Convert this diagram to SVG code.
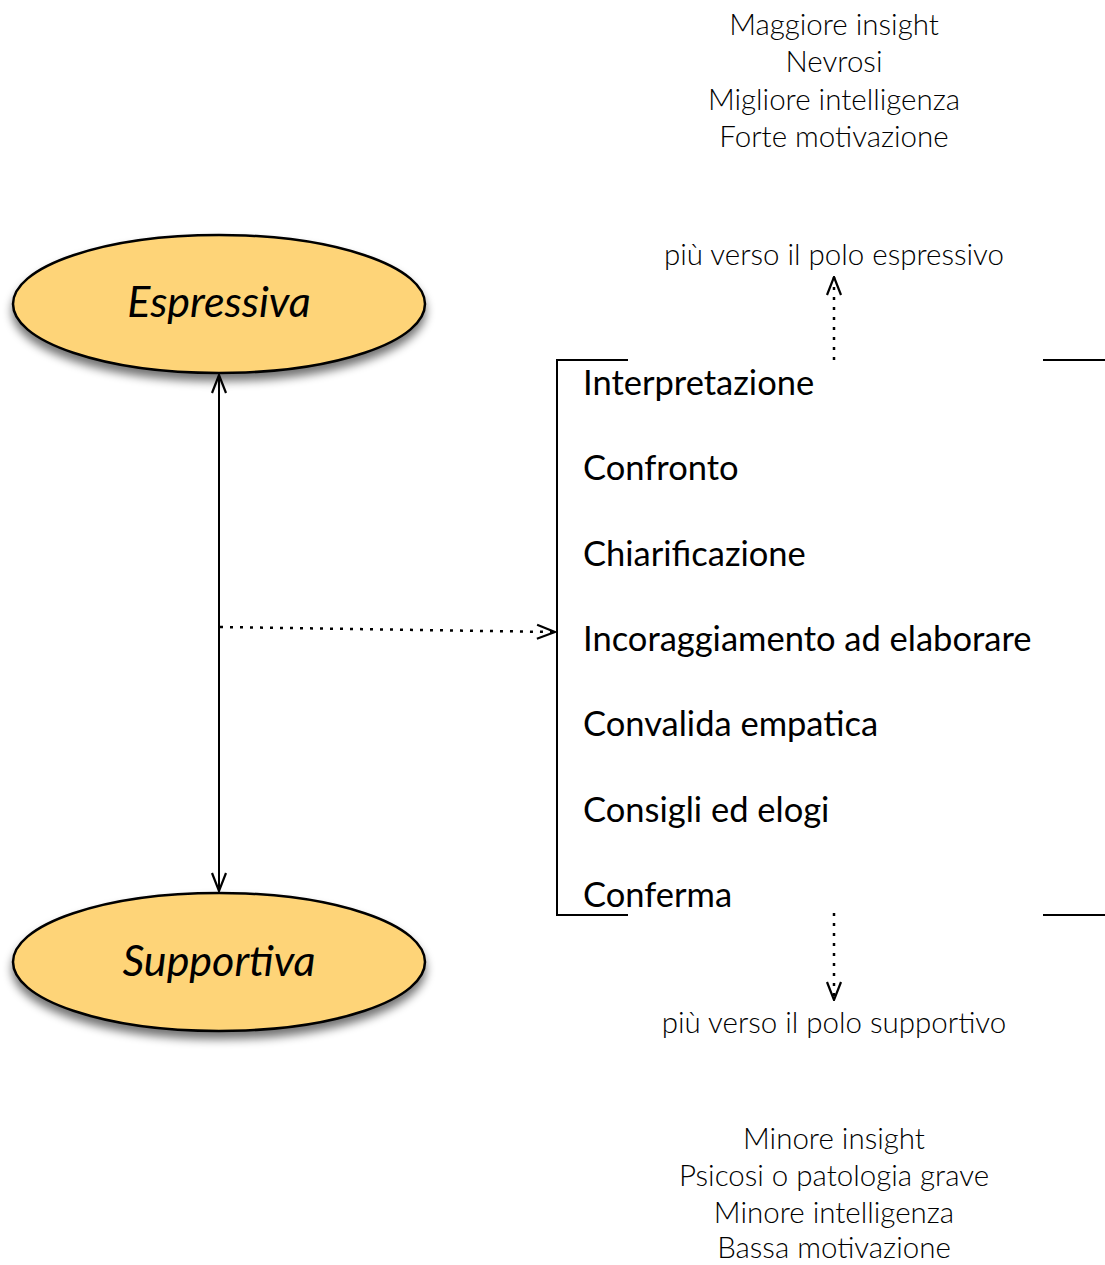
<svg xmlns="http://www.w3.org/2000/svg" width="1105" height="1265" viewBox="0 0 1105 1265">
<style>
.thin{font-family:Lato,"Open Sans",sans-serif;font-weight:300;font-size:29.5px;fill:#000;text-anchor:middle}
.item{font-family:Lato,"Open Sans",sans-serif;font-weight:400;font-size:34.5px;fill:#000}
.pole{font-family:Lato,"Open Sans",sans-serif;font-style:italic;font-size:43px;fill:#000;text-anchor:middle}
.node{fill:#FED478;stroke:#000;stroke-width:2.5}
.line{stroke:#000;stroke-width:2;fill:none}
.dot{stroke:#000;stroke-width:2.5;fill:none;stroke-dasharray:3 7}
</style>
<defs>
<filter id="sh" x="-20%" y="-20%" width="140%" height="150%">
<feGaussianBlur in="SourceAlpha" stdDeviation="5"/>
<feOffset dx="0" dy="7" result="b"/>
<feComponentTransfer><feFuncA type="linear" slope="0.55"/></feComponentTransfer>
<feMerge><feMergeNode/><feMergeNode in="SourceGraphic"/></feMerge>
</filter>
<marker id="arr" viewBox="0 0 20 20" refX="19" refY="10" markerWidth="20" markerHeight="20" markerUnits="userSpaceOnUse" orient="auto-start-reverse">
<path d="M1,3 L19,10 L1,17" fill="none" stroke="#000" stroke-width="2.2"/>
</marker>
</defs>
<rect width="1105" height="1265" fill="#fff"/>

<g id="top-text">
<text class="thin" x="834" y="35">Maggiore insight</text>
<text class="thin" x="834" y="72">Nevrosi</text>
<text class="thin" x="834" y="110">Migliore intelligenza</text>
<text class="thin" x="834" y="147">Forte motivazione</text>
<text class="thin" x="834" y="265">più verso il polo espressivo</text>
</g>

<g id="espressiva">
<ellipse class="node" cx="219" cy="304" rx="206" ry="69" filter="url(#sh)"/>
<text class="pole" x="219" y="317">Espressiva</text>
</g>

<g id="supportiva">
<ellipse class="node" cx="219" cy="962" rx="206" ry="69" filter="url(#sh)"/>
<text class="pole" x="219" y="976">Supportiva</text>
</g>

<g id="techniques">
<path class="line" d="M628,360 H557 V915 H628"/>
<path class="line" d="M1043,360 H1105 M1043,915 H1105"/>
<text class="item" x="583" y="395">Interpretazione</text>
<text class="item" x="583" y="480">Confronto</text>
<text class="item" x="583" y="566">Chiarificazione</text>
<text class="item" x="583" y="651">Incoraggiamento ad elaborare</text>
<text class="item" x="583" y="736">Convalida empatica</text>
<text class="item" x="583" y="822">Consigli ed elogi</text>
<text class="item" x="583" y="907">Conferma</text>
</g>

<g id="bottom-text">
<text class="thin" x="834" y="1033">più verso il polo supportivo</text>
<text class="thin" x="834" y="1149">Minore insight</text>
<text class="thin" x="834" y="1186">Psicosi o patologia grave</text>
<text class="thin" x="834" y="1223">Minore intelligenza</text>
<text class="thin" x="834" y="1258">Bassa motivazione</text>
</g>

<g id="connectors">
<line class="line" x1="219" y1="375" x2="219" y2="891" marker-start="url(#arr)" marker-end="url(#arr)"/>
<line class="dot" x1="220" y1="627" x2="555" y2="632" marker-end="url(#arr)"/>
<line class="dot" x1="834" y1="360" x2="834" y2="277" marker-end="url(#arr)"/>
<line class="dot" x1="834" y1="913" x2="834" y2="1000" marker-end="url(#arr)"/>
</g>
</svg>
